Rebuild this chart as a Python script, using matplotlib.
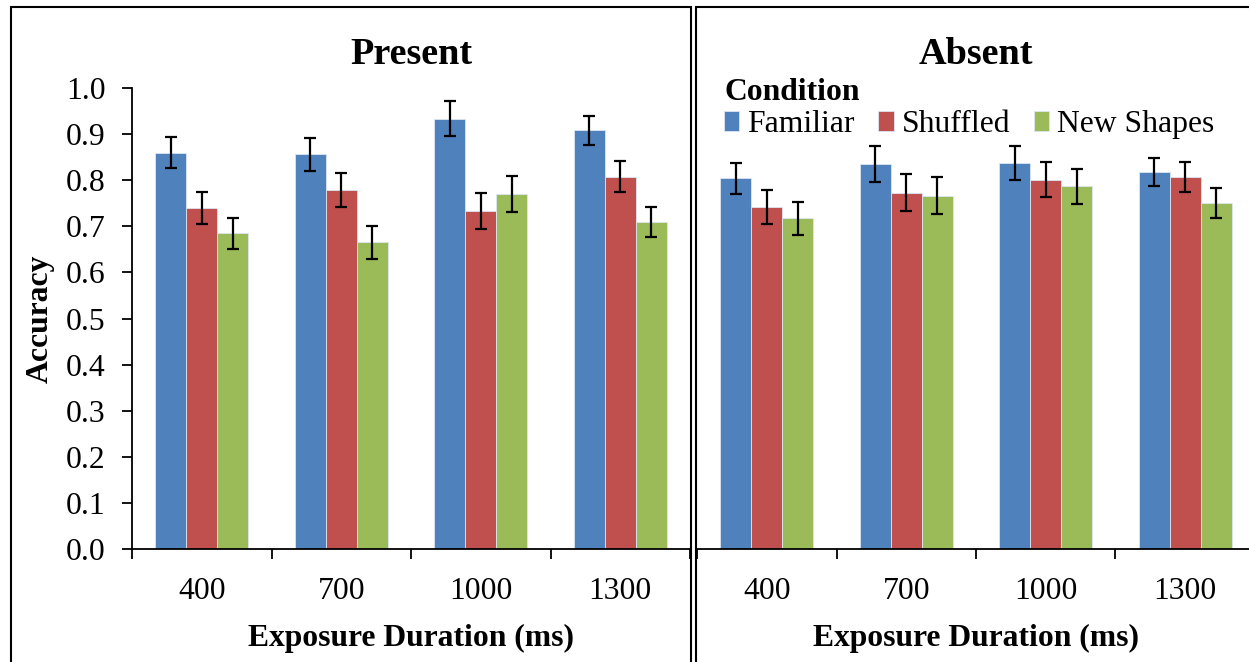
import numpy as np
import matplotlib
matplotlib.use('Agg')
import matplotlib.pyplot as plt
from matplotlib.patches import Rectangle

plt.rcParams['font.family'] = ['Liberation Serif', 'DejaVu Serif']

durations = ['400', '700', '1000', '1300']
conditions = ['Familiar', 'Shuffled', 'New Shapes']
colors = ['#4F81BD', '#C0504D', '#9BBB59']

present_familiar = [0.860, 0.856, 0.933, 0.908]
present_shuffled = [0.739, 0.778, 0.733, 0.808]
present_new = [0.685, 0.665, 0.770, 0.709]
present_familiar_err = [0.034, 0.035, 0.038, 0.032]
present_shuffled_err = [0.035, 0.037, 0.039, 0.033]
present_new_err = [0.034, 0.036, 0.039, 0.033]

absent_familiar = [0.804, 0.835, 0.837, 0.818]
absent_shuffled = [0.742, 0.773, 0.801, 0.807]
absent_new = [0.717, 0.766, 0.787, 0.751]
absent_familiar_err = [0.034, 0.039, 0.037, 0.031]
absent_shuffled_err = [0.036, 0.040, 0.038, 0.033]
absent_new_err = [0.035, 0.040, 0.038, 0.033]

FS = 22.8

def draw_panel(ax, vals, errs, title, show_y):
	x = np.arange(len(durations)) + 0.5
	w = 0.223
	for i in range(3):
		ax.bar(x + (i - 1) * w, vals[i], w, color=colors[i], edgecolor='#DCE6F2',
			linewidth=0.6, label=conditions[i], zorder=2)
		ax.errorbar(x + (i - 1) * w, vals[i], yerr=errs[i], fmt='none', ecolor='black',
			elinewidth=1.6, capsize=4.3, capthick=1.6, zorder=3)
	ax.set_xlim(0, 4)
	ax.set_ylim(0, 1.0)
	ax.set_xticks([0, 1, 2, 3, 4])
	ax.set_xticklabels([])
	ax.set_xticks(x, minor=True)
	ax.set_xticklabels(durations, minor=True, fontsize=FS)
	ax.tick_params(axis='x', which='major', length=7, width=1.3, direction='out')
	ax.tick_params(axis='x', which='minor', length=0, pad=20)
	ax.spines['top'].set_visible(False)
	ax.spines['right'].set_visible(False)
	ax.spines['bottom'].set_linewidth(1.3)
	ax.set_xlabel('Exposure Duration (ms)', fontsize=FS, fontweight='bold', labelpad=13)
	ax.set_title(title, fontsize=27.5, fontweight='bold', pad=17)
	if show_y:
		ax.set_yticks(np.arange(0, 1.01, 0.1))
		ax.set_yticklabels(['%.1f' % v for v in np.arange(0, 1.01, 0.1)], fontsize=FS)
		ax.tick_params(axis='y', length=7, width=1.3, pad=12)
		ax.spines['left'].set_linewidth(1.3)
		ax.set_ylabel('Accuracy', fontsize=FS, fontweight='bold', labelpad=8)
	else:
		ax.set_yticks([])
		ax.spines['left'].set_visible(False)

fig = plt.figure(figsize=(12.49, 6.62), dpi=100)
ax1 = fig.add_axes([132 / 1249, 1 - 549 / 662, 558 / 1249, 461 / 662])
ax2 = fig.add_axes([697 / 1249, 1 - 549 / 662, 558 / 1249, 461 / 662])

draw_panel(ax1, [present_familiar, present_shuffled, present_new],
	[present_familiar_err, present_shuffled_err, present_new_err], 'Present', True)
draw_panel(ax2, [absent_familiar, absent_shuffled, absent_new],
	[absent_familiar_err, absent_shuffled_err, absent_new_err], 'Absent', False)

leg = ax2.legend(title='Condition', ncol=3, frameon=False, alignment='left',
	loc='upper left', bbox_to_anchor=(27 / 558, 1.05 - 13 / 461), fontsize=FS,
	title_fontproperties={'weight': 'bold', 'size': FS},
	handlelength=0.48, handleheight=0.6, handletextpad=0.25, columnspacing=0.75,
	borderaxespad=0, borderpad=0, labelspacing=0.1)

# panel borders
W, H = 1249, 662
fig.add_artist(Rectangle((11 / W, -0.1), (691 - 11) / W, (7 / H) * -1 + 1.1,
	transform=fig.transFigure, fill=False, edgecolor='black', linewidth=1.5))
fig.add_artist(Rectangle((696 / W, -0.1), 0.6, (7 / H) * -1 + 1.1,
	transform=fig.transFigure, fill=False, edgecolor='black', linewidth=1.5))

fig.savefig('out.png', dpi=100)
